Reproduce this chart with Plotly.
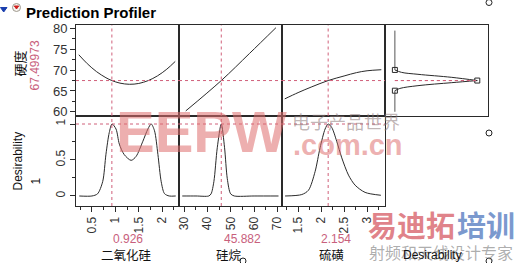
import plotly.graph_objects as go
from plotly.subplots import make_subplots

# ---------------- data ----------------
factor_names = ["二氧化硅", "硅烷", "硫磺"]
factor_current = [0.926, 45.882, 2.154]
factor_current_text = ["0.926", "45.882", "2.154"]
response_name = "硬度"
response_current = 67.49973
response_current_text = "67.49973"
desirability_current = 1
desirability_current_text = "1"

# response profile traces
sio2_x = [0.22, 0.4, 0.6, 0.8, 0.926, 1.1, 1.3, 1.5, 1.7, 1.9, 2.1, 2.28]
sio2_y = [73.7, 71.56, 69.63, 68.18, 67.50, 66.88, 66.6, 66.80, 67.48, 68.62, 70.24, 72.1]
silane_x = [30.6, 45.882, 58.0, 69.4]
silane_y = [60.2, 67.5, 74.0, 80.2]
sulfur_x = [1.21, 1.5, 1.8, 2.154, 2.5, 2.77, 3.0, 3.31]
sulfur_y = [63.1, 64.6, 66.0, 67.5, 68.6, 69.4, 69.85, 70.1]

# desirability profile traces
sio2_dx = [0.23, 0.5, 0.62, 0.73, 0.80, 0.87, 0.93, 1.015, 1.086, 1.19, 1.337,
           1.444, 1.588, 1.695, 1.766, 1.837, 1.91, 1.98, 2.05, 2.15, 2.29]
sio2_d = [0, 0, 0.03, 0.2, 0.58, 0.88, 1.0, 0.93, 0.72, 0.575, 0.495,
          0.55, 0.76, 0.93, 1.0, 0.906, 0.575, 0.198, 0.033, 0.0, 0.0]
silane_dx = [29.1, 35, 40.5, 41.5, 42.7, 44.16, 45.882, 47.3, 48.47, 49.9, 51.5, 60, 70.5]
silane_d = [0, 0, 0, 0.03, 0.2, 0.67, 1.0, 0.67, 0.24, 0.03, 0, 0, 0]
sulfur_dx = [1.217, 1.58, 1.726, 1.87, 1.978, 2.087, 2.154, 2.233, 2.34, 2.45,
             2.596, 2.74, 2.957, 3.30]
sulfur_d = [0, 0.02, 0.08, 0.34, 0.67, 0.93, 1.0, 0.95, 0.76, 0.53, 0.29, 0.15, 0.05, 0.01]

# desirability function (response vs desirability)
des_hi_d = [0, 0.08, 0.28, 0.69, 1.0]
des_hi_y = [70.05, 69.47, 69.0, 68.27, 67.5]
des_lo_d = [0, 0.06, 0.28, 0.69, 1.0]
des_lo_y = [65.06, 65.6, 66.27, 66.99, 67.5]
des_top_y = [79.5, 70.05]
des_bot_y = [65.06, 60.0]
des_marker_d = [0, 0, 1]
des_marker_y = [70.05, 65.06, 67.5]

x_ranges = [[0.16, 2.36], [27.7, 72.0], [1.15, 3.39], [-0.12, 1.13]]
y_range_top = [59.1, 80.85]
y_range_bot = [-0.139, 1.118]

# ---------------- figure ----------------
W, H = 519, 263
L, R, T, B = 76, 488, 25, 206
PW, PH = R - L, B - T


def xp(px):
    return (px - L) / PW


def yp(py):
    return (B - py) / PH


FONT = "Arial, 'Liberation Sans', sans-serif"
CJK = "'Noto Sans CJK SC', sans-serif"
PINK = "#c8607c"
DOT = "#d0607a"
LINE = "#2a2a2a"

fig = make_subplots(rows=2, cols=4, horizontal_spacing=0, vertical_spacing=0)

curve = dict(color=LINE, width=1)
fig.add_trace(go.Scatter(x=sio2_x, y=sio2_y, mode="lines", line=dict(shape="spline", **curve)), 1, 1)
fig.add_trace(go.Scatter(x=silane_x, y=silane_y, mode="lines", line=dict(shape="spline", **curve)), 1, 2)
fig.add_trace(go.Scatter(x=sulfur_x, y=sulfur_y, mode="lines", line=dict(shape="spline", **curve)), 1, 3)
fig.add_trace(go.Scatter(x=sio2_dx, y=sio2_d, mode="lines", line=dict(shape="spline", smoothing=0.8, **curve)), 2, 1)
fig.add_trace(go.Scatter(x=silane_dx, y=silane_d, mode="lines", line=dict(shape="spline", smoothing=0.8, **curve)), 2, 2)
fig.add_trace(go.Scatter(x=sulfur_dx, y=sulfur_d, mode="lines", line=dict(shape="spline", smoothing=0.8, **curve)), 2, 3)

fig.add_trace(go.Scatter(x=des_hi_d, y=des_hi_y, mode="lines", line=dict(shape="spline", **curve)), 1, 4)
fig.add_trace(go.Scatter(x=des_lo_d, y=des_lo_y, mode="lines", line=dict(shape="spline", **curve)), 1, 4)
fig.add_trace(go.Scatter(x=[0, 0], y=des_top_y, mode="lines", line=dict(color="#555", width=1)), 1, 4)
fig.add_trace(go.Scatter(x=[0, 0], y=des_bot_y, mode="lines", line=dict(color="#555", width=1)), 1, 4)
fig.add_trace(go.Scatter(x=des_marker_d, y=des_marker_y, mode="markers",
                         marker=dict(symbol="square-open", size=5, color=LINE, line=dict(width=1))), 1, 4)

# dotted crosshair lines
dot = dict(color=DOT, width=1, dash="dot")
for c in range(1, 4):
    xr = "x" + ("" if c == 1 else str(c))
    xb = "x" + str(c + 4)
    fig.add_shape(type="line", xref=xr, yref="y domain" if c == 1 else f"y{c} domain",
                  x0=factor_current[c - 1], x1=factor_current[c - 1], y0=0, y1=1, line=dot)
    fig.add_shape(type="line", xref=xb, yref=f"y{c + 4} domain",
                  x0=factor_current[c - 1], x1=factor_current[c - 1], y0=0, y1=1, line=dot)
    fig.add_shape(type="line", xref=xr + " domain", yref="y" + ("" if c == 1 else str(c)),
                  x0=0, x1=1, y0=response_current, y1=response_current, line=dot)
    fig.add_shape(type="line", xref=xb + " domain", yref=f"y{c + 4}",
                  x0=0, x1=1, y0=desirability_current, y1=desirability_current, line=dot)
fig.add_shape(type="line", xref="x4", yref="y4", x0=0, x1=1,
              y0=response_current, y1=response_current, line=dot)

# axes
tickfont = dict(family=FONT, size=12, color="#333")
dt_major = [0.5, 10, 0.5]
dt_minor = [0.25, 5, 0.25]
t0_minor = [0.25, 25, 1.25]
for c in range(1, 5):
    # top row x
    fig.update_xaxes(row=1, col=c, range=x_ranges[c - 1], showline=True, mirror=True,
                     linecolor=LINE, linewidth=1, showgrid=False, zeroline=False,
                     showticklabels=False, ticks="")
    # bottom row x
    if c < 4:
        fig.update_xaxes(row=2, col=c, range=x_ranges[c - 1], showline=True, mirror=True,
                         linecolor=LINE, linewidth=1, showgrid=False, zeroline=False,
                         ticks="outside", ticklen=5, tickcolor=LINE, tickangle=-90,
                         dtick=dt_major[c - 1], tick0=0, tickfont=tickfont,
                         minor=dict(ticks="outside", ticklen=3, dtick=dt_minor[c - 1],
                                    tick0=t0_minor[c - 1], tickcolor=LINE, showgrid=False))
    else:
        fig.update_xaxes(row=2, col=c, range=x_ranges[c - 1], showline=True, mirror=True,
                         linecolor=LINE, linewidth=1, showgrid=False, zeroline=False,
                         ticks="outside", ticklen=5, tickcolor=LINE, tickangle=-90,
                         tickvals=[0, 0.25, 0.5, 0.75, 1],
                         ticktext=["0", "0.25", "0.5", "0.75", "1"], tickfont=tickfont)
    fig.update_yaxes(row=1, col=c, range=y_range_top, showline=True, mirror=True,
                     linecolor=LINE, linewidth=1, showgrid=False, zeroline=False,
                     showticklabels=(c == 1), ticks="outside" if c == 1 else "",
                     ticklen=5, tickcolor=LINE, dtick=5, tick0=60,
                     tickfont=dict(family=FONT, size=13, color="#333"),
                     minor=dict(ticks="outside" if c == 1 else "", ticklen=3, dtick=2.5,
                                tick0=60, tickcolor=LINE, showgrid=False))
    fig.update_yaxes(row=2, col=c, range=y_range_bot, showline=True, mirror=True,
                     linecolor=LINE, linewidth=1, showgrid=False, zeroline=False,
                     showticklabels=(c == 1), ticks="outside" if c == 1 else "",
                     ticklen=5, tickcolor=LINE, tickvals=[0, 0.5, 1],
                     ticktext=["0", "0.5", "1"], tickangle=-90, tickfont=tickfont,
                     minor=dict(ticks="outside" if c == 1 else "", ticklen=3, dtick=0.25,
                                tick0=0, tickcolor=LINE, showgrid=False))

ann = []


def add_text(px, py, text, size=12, color="#111", family=FONT, angle=0, bold=False,
             xanchor="center", opacity=1.0):
    ann.append(dict(x=xp(px), y=yp(py), xref="paper", yref="paper", text=f"<b>{text}</b>" if bold else text,
                    showarrow=False, xanchor=xanchor, yanchor="middle", textangle=angle,
                    font=dict(family=family, size=size, color=color), opacity=opacity))


# watermarks (faint)
add_text(201, 131, "EEPW", size=58, color="rgba(222,110,110,0.55)", bold=True)
add_text(346, 121, "电子产品世界", size=18, color="rgba(140,120,120,0.55)", family=CJK)
add_text(348, 145, ".com.cn", size=29, color="rgba(222,110,110,0.55)", bold=True)
add_text(366, 224, "易迪拓", size=29, color="rgba(214,90,100,0.75)", family=CJK, bold=True, xanchor="left")
add_text(455, 224, "培训", size=29, color="rgba(80,120,190,0.75)", family=CJK, bold=True, xanchor="left")
add_text(441, 252, "射频和天线设计专家", size=16, color="rgba(120,120,120,0.6)", family=CJK)

# title
add_text(24, 13, "Prediction Profiler", size=15, color="#000", bold=True, xanchor="left")

# axis labels
add_text(19, 63.5, response_name, size=13, color="#111", family=CJK, angle=-90)
add_text(34.5, 66, response_current_text, size=12, color=PINK, angle=-90)
add_text(17.5, 161, "Desirability", size=12, color="#111", angle=-90)
add_text(35, 181.5, desirability_current_text, size=12, color="#111", angle=-90)
val_px = [128, 242, 335.5]
name_px = [126, 228.5, 331.5]
for i in range(3):
    add_text(val_px[i], 238.5, factor_current_text[i], size=12, color=PINK)
    add_text(name_px[i], 254, factor_names[i], size=12.5, color="#111", family=CJK)
add_text(432.5, 255, "Desirability", size=12, color="#111")

shapes = list(fig.layout.shapes)
# title bar
shapes.insert(0, dict(type="rect", xref="paper", yref="paper", x0=xp(10), x1=xp(487),
                      y0=yp(23), y1=yp(2), fillcolor="#ECE9D8", line=dict(color="#B5B19F", width=1),
                      layer="below"))
# disclosure icons
shapes.append(dict(type="path", xref="paper", yref="paper",
                   path=f"M {xp(0.5)},{yp(7.5)} L {xp(7)},{yp(7.5)} L {xp(3.7)},{yp(12)} Z",
                   fillcolor="#1a3fae", line=dict(color="#1a3fae", width=1)))
shapes.append(dict(type="circle", xref="paper", yref="paper", x0=xp(12.5), x1=xp(20.5),
                   y0=yp(11.5), y1=yp(3.5), fillcolor="#f6f3ee", line=dict(color="#a09a90", width=1)))
shapes.append(dict(type="path", xref="paper", yref="paper",
                   path=f"M {xp(14.3)},{yp(6)} L {xp(18.7)},{yp(6)} L {xp(16.5)},{yp(9)} Z",
                   fillcolor="#d02020", line=dict(color="#d02020", width=1)))
# resize handles
for (cx, cy) in [(489, 2.5), (489, 133), (243, 261), (489, 261)]:
    shapes.append(dict(type="circle", xref="paper", yref="paper", x0=xp(cx - 3), x1=xp(cx + 3),
                       y0=yp(cy + 3), y1=yp(cy - 3), fillcolor="white", line=dict(color="#222", width=1)))

fig.update_layout(width=W, height=H, autosize=False, showlegend=False,
                  margin=dict(l=L, r=W - R, t=T, b=H - B, pad=0),
                  paper_bgcolor="white", plot_bgcolor="white",
                  font=dict(family=FONT, size=12, color="#111"),
                  annotations=ann, shapes=shapes)

fig.write_html("out.html")
